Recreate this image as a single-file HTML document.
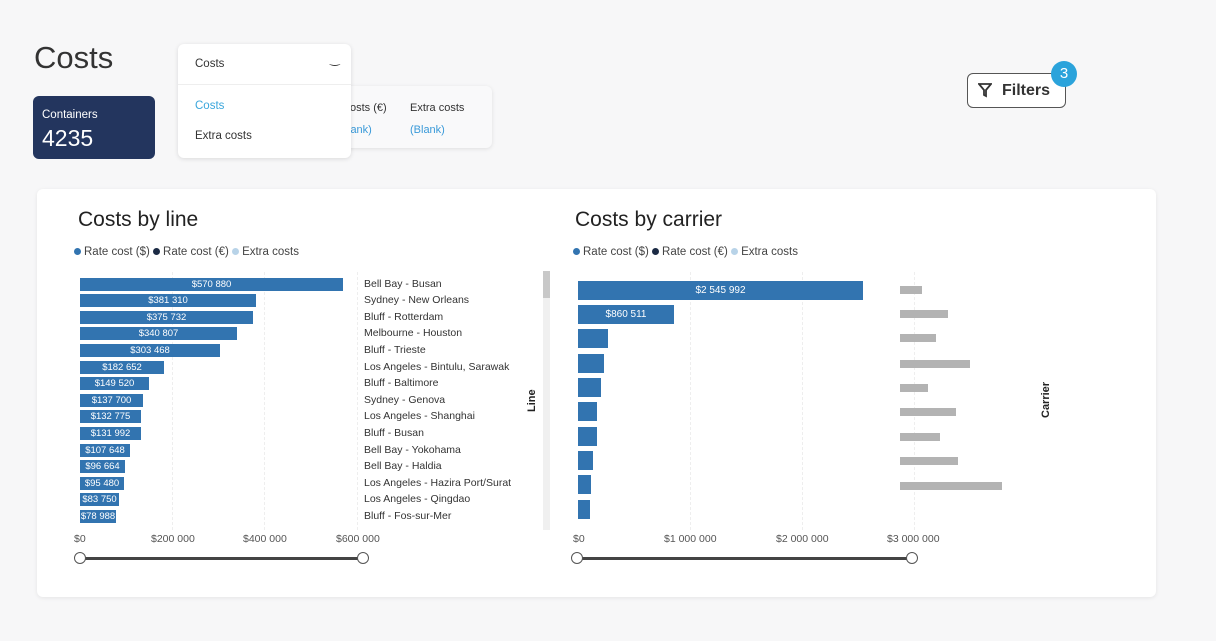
<!DOCTYPE html>
<html><head><meta charset="utf-8"><style>
body{margin:0;width:1216px;height:641px;background:#f7f7f8;font-family:"Liberation Sans",sans-serif;position:relative;overflow:hidden}
.a{position:absolute}
.lbl{font-size:10.5px;color:#333}
.bar{position:absolute;background:#3274b0;height:13px;color:#fff;font-size:9.5px;text-align:center;line-height:13px}
.cat{position:absolute;left:364px;font-size:10.5px;color:#333;line-height:13px}
.gb{position:absolute;left:900px;height:8px;background:#b3b3b3}
.rb{position:absolute;left:578px;height:19px;background:#3274b0;color:#fff;font-size:10px;text-align:center;line-height:19px}
.tick{position:absolute;font-size:10.5px;color:#555;top:533px}
.grid{position:absolute;top:272px;height:258px;border-left:1px dashed #eee}
.leg{position:absolute;font-size:11.5px;color:#444}
.dot{display:inline-block;width:7px;height:7px;border-radius:50%;margin-right:3px;vertical-align:0}
</style></head><body>
<div class="a" style="left:34px;top:40px;font-size:31px;color:#333">Costs</div>
<div class="a" style="left:33px;top:96px;width:122px;height:63px;background:#23355e;border-radius:6px;color:#fff">
<div style="position:absolute;left:9px;top:13px;font-size:11.5px">Containers</div>
<div style="position:absolute;left:9px;top:29px;font-size:23px">4235</div></div>
<div class="a" style="left:330px;top:86px;width:162px;height:62px;background:#f9f9fa;border-radius:6px;box-shadow:0 1px 4px rgba(0,0,0,.1)">
<div style="position:absolute;left:20px;top:16px;font-size:11px;color:#333">osts (€)</div>
<div style="position:absolute;left:80px;top:16px;font-size:11px;color:#333">Extra costs</div>
<div style="position:absolute;left:18px;top:38px;font-size:11px;color:#3a9ad9">lank)</div>
<div style="position:absolute;left:80px;top:38px;font-size:11px;color:#3a9ad9">(Blank)</div></div>
<div class="a" style="left:178px;top:44px;width:173px;height:114px;background:#fff;border-radius:6px;box-shadow:0 1px 5px rgba(0,0,0,.12)">
<div style="position:absolute;left:17px;top:14px;font-size:11.5px;color:#333">Costs</div>
<div style="position:absolute;left:152px;top:8px;font-size:12px;color:#333">‿</div>
<div style="position:absolute;left:0;top:40px;width:173px;border-top:1px solid #eee"></div>
<div style="position:absolute;left:17px;top:56px;font-size:11.5px;color:#3aa6dc">Costs</div>
<div style="position:absolute;left:17px;top:86px;font-size:11.5px;color:#333">Extra costs</div></div>
<div class="a" style="left:967px;top:73px;width:99px;height:35px;border:1.5px solid #555;border-radius:6px;background:#fff;box-sizing:border-box">
<svg style="position:absolute;left:10px;top:9px" width="14" height="15" viewBox="0 0 14 15"><path d="M1 1h12l-5 6v6l-2-1V7z" fill="none" stroke="#333" stroke-width="1.8"/></svg>
<div style="position:absolute;left:34px;top:8px;font-size:16px;font-weight:bold;color:#333">Filters</div></div>
<div class="a" style="left:1051px;top:61px;width:26px;height:26px;border-radius:50%;background:#2ba3db;color:#fff;font-size:15px;text-align:center;line-height:26px">3</div>

<div class="a" style="left:37px;top:189px;width:1119px;height:408px;background:#fff;border-radius:6px;box-shadow:0 1px 4px rgba(0,0,0,.08)"></div>
<div class="a" style="left:78px;top:208px;font-size:21px;color:#222">Costs by line</div>
<div class="a" style="left:575px;top:208px;font-size:21px;color:#222">Costs by carrier</div>
<div class="leg" style="left:74px;top:246px"><span class="dot" style="background:#3274b0"></span>Rate cost ($) <span class="dot" style="background:#1b2a44"></span>Rate cost (€) <span class="dot" style="background:#b8d3e8"></span>Extra costs</div>
<div class="leg" style="left:573px;top:246px"><span class="dot" style="background:#3274b0"></span>Rate cost ($) <span class="dot" style="background:#1b2a44"></span>Rate cost (€) <span class="dot" style="background:#b8d3e8"></span>Extra costs</div>

<div class="grid" style="left:172px"></div><div class="grid" style="left:264px"></div><div class="grid" style="left:357px"></div>
<div class="grid" style="left:690px"></div><div class="grid" style="left:802px"></div><div class="grid" style="left:914px"></div>

<div class="bar" style="left:80px;top:278px;width:263px">$570 880</div>
<div class="bar" style="left:80px;top:294px;width:176px">$381 310</div>
<div class="bar" style="left:80px;top:311px;width:173px">$375 732</div>
<div class="bar" style="left:80px;top:327px;width:157px">$340 807</div>
<div class="bar" style="left:80px;top:344px;width:140px">$303 468</div>
<div class="bar" style="left:80px;top:361px;width:84px">$182 652</div>
<div class="bar" style="left:80px;top:377px;width:69px">$149 520</div>
<div class="bar" style="left:80px;top:394px;width:63px">$137 700</div>
<div class="bar" style="left:80px;top:410px;width:61px">$132 775</div>
<div class="bar" style="left:80px;top:427px;width:61px">$131 992</div>
<div class="bar" style="left:80px;top:444px;width:50px">$107 648</div>
<div class="bar" style="left:80px;top:460px;width:45px">$96 664</div>
<div class="bar" style="left:80px;top:477px;width:44px">$95 480</div>
<div class="bar" style="left:80px;top:493px;width:39px">$83 750</div>
<div class="bar" style="left:80px;top:510px;width:36px">$78 988</div>

<div class="cat" style="top:278px">Bell Bay - Busan</div>
<div class="cat" style="top:294px">Sydney - New Orleans</div>
<div class="cat" style="top:311px">Bluff - Rotterdam</div>
<div class="cat" style="top:327px">Melbourne - Houston</div>
<div class="cat" style="top:344px">Bluff - Trieste</div>
<div class="cat" style="top:361px">Los Angeles - Bintulu, Sarawak</div>
<div class="cat" style="top:377px">Bluff - Baltimore</div>
<div class="cat" style="top:394px">Sydney - Genova</div>
<div class="cat" style="top:410px">Los Angeles - Shanghai</div>
<div class="cat" style="top:427px">Bluff - Busan</div>
<div class="cat" style="top:444px">Bell Bay - Yokohama</div>
<div class="cat" style="top:460px">Bell Bay - Haldia</div>
<div class="cat" style="top:477px">Los Angeles - Hazira Port/Surat</div>
<div class="cat" style="top:493px">Los Angeles - Qingdao</div>
<div class="cat" style="top:510px">Bluff - Fos-sur-Mer</div>

<div class="a" style="left:543px;top:271px;width:7px;height:259px;background:#f0f0f0"></div>
<div class="a" style="left:543px;top:271px;width:7px;height:27px;background:#c8c8c8"></div>
<div class="a" style="left:526px;top:393px;font-size:11px;font-weight:bold;color:#222;transform:rotate(-90deg);transform-origin:left top;top:412px">Line</div>
<div class="a" style="left:1040px;top:418px;font-size:11px;font-weight:bold;color:#222;transform:rotate(-90deg);transform-origin:left top">Carrier</div>

<div class="tick" style="left:74px">$0</div>
<div class="tick" style="left:151px">$200 000</div>
<div class="tick" style="left:243px">$400 000</div>
<div class="tick" style="left:336px">$600 000</div>
<div class="tick" style="left:573px">$0</div>
<div class="tick" style="left:664px">$1 000 000</div>
<div class="tick" style="left:776px">$2 000 000</div>
<div class="tick" style="left:887px">$3 000 000</div>

<div class="rb" style="top:281px;width:285px">$2 545 992</div>
<div class="rb" style="top:305px;width:96px">$860 511</div>
<div class="rb" style="top:329px;width:30px"></div>
<div class="rb" style="top:354px;width:26px"></div>
<div class="rb" style="top:378px;width:23px"></div>
<div class="rb" style="top:402px;width:19px"></div>
<div class="rb" style="top:427px;width:19px"></div>
<div class="rb" style="top:451px;width:15px"></div>
<div class="rb" style="top:475px;width:13px"></div>
<div class="rb" style="top:500px;width:12px"></div>

<div class="gb" style="top:286px;width:22px"></div>
<div class="gb" style="top:310px;width:48px"></div>
<div class="gb" style="top:334px;width:36px"></div>
<div class="gb" style="top:360px;width:70px"></div>
<div class="gb" style="top:384px;width:28px"></div>
<div class="gb" style="top:408px;width:56px"></div>
<div class="gb" style="top:433px;width:40px"></div>
<div class="gb" style="top:457px;width:58px"></div>
<div class="gb" style="top:482px;width:102px"></div>

<div class="a" style="left:80px;top:557px;width:284px;height:3px;background:#444"></div>
<div class="a" style="left:74px;top:552px;width:10px;height:10px;border:1.5px solid #555;border-radius:50%;background:#fff"></div>
<div class="a" style="left:357px;top:552px;width:10px;height:10px;border:1.5px solid #555;border-radius:50%;background:#fff"></div>
<div class="a" style="left:578px;top:557px;width:335px;height:3px;background:#444"></div>
<div class="a" style="left:571px;top:552px;width:10px;height:10px;border:1.5px solid #555;border-radius:50%;background:#fff"></div>
<div class="a" style="left:906px;top:552px;width:10px;height:10px;border:1.5px solid #555;border-radius:50%;background:#fff"></div>
</body></html>
